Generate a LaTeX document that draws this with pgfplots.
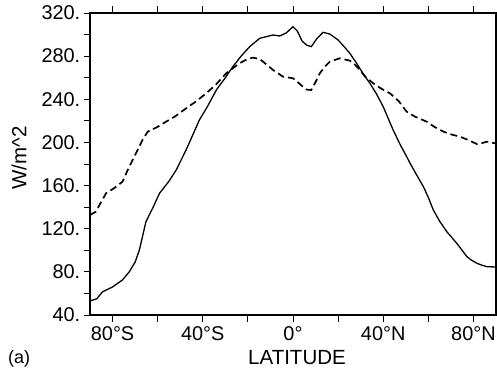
\documentclass[border=0pt]{standalone}
\usepackage{fontspec}
\setmainfont{Liberation Sans}
\usepackage{pgfplots}
\pgfplotsset{compat=1.18}
\begin{document}
\begin{tikzpicture}
\path[use as bounding box] (0pt,0pt) rectangle (497pt,377pt);
\begin{axis}[
  at={(90pt,62pt)}, anchor=south west,
  scale only axis, width=406pt, height=302pt,
  xmin=-90, xmax=90, ymin=40, ymax=320,
  xtick={-80,-40,0,40,80},
  xticklabels={80°S,40°S,0°,40°N,80°N},
  minor xtick={-60,-20,20,60},
  ytick={40,80,120,160,200,240,280,320},
  yticklabels={40.,80.,120.,160.,200.,240.,280.,320.},
  minor ytick={60,100,140,180,220,260,300},
  xtick pos=both, ytick pos=left,
  tick align=outside,
  major tick length=6.5pt, minor tick length=6.5pt,
  tick style={black, line width=0.9pt},
  axis line style={line width=1.1pt},
  tick label style={font=\Huge, scale=0.8},
  yticklabel style={xshift=-0.5pt},
  xticklabel style={yshift=-2.5pt},
  clip=false,
]
\addplot[black, line width=1.3pt] coordinates {
(-90,53) (-87,55) (-84.4,61.6) (-80,66) (-75.6,72.5) (-72.6,80) (-70,89) (-68.1,100.3) (-65.2,126.5)
(-62,140) (-59.2,152.8) (-55,164) (-51.8,174.4) (-47.4,193) (-41.5,220.8) (-38,233) (-34,248.6)
(-30,260) (-26.7,270.2) (-23,280) (-19.2,288.8) (-14.8,296.5) (-11,298.5) (-8.9,299.6) (-5.9,298.7)
(-3,301.5) (0,307.3) (2,303) (4,294) (6,290.3) (8.1,288.8) (10.5,296) (13.3,302.1) (16.3,300.5)
(20,295) (23,288) (25.2,282.6) (28.2,273.4) (31,264) (34.1,254.8) (37,245) (40,233.1) (44.4,211.5)
(47.5,198) (50.4,186.8) (51.9,180.7) (54.5,171) (57.8,159) (60,149) (62.2,137.4) (65,127)
(68.2,117.2) (72.6,106.5) (77.1,94.1) (79,91) (81.5,88) (84,86) (86,84.8) (90,84.5)
};
\addplot[black, line width=1.7pt, dash pattern=on 7pt off 4pt] coordinates {
(-90,132.7) (-87.4,135.8) (-85,145) (-82.9,152.8) (-79,158) (-75.6,163.6) (-72.6,177.5) (-68.9,193)
(-66.7,202.3) (-64.4,210) (-60,214.5) (-56.3,219.2) (-52,224.5) (-47.4,231.6) (-43,238) (-38.5,245.5)
(-34,254) (-29.6,264.1) (-23.7,273.4) (-20,277.5) (-17.8,278.6) (-14.8,277.4) (-11,271) (-8.9,267.2)
(-4.4,260.9) (0,259.5) (2,256) (4.4,251.7) (6,249) (8.1,248.6) (10,256) (11.9,264.1) (14,270) (16.3,274.8)
(20.7,278) (25.2,275.8) (27.5,272) (29.6,267.2) (32,261) (35.6,254.8) (39,250) (43,245.5) (47,238)
(50.4,228.5) (54,224) (59.3,219.2) (63,214) (66.7,210) (70,207.5) (74.1,205.3) (78,202) (81.5,198.5)
(84,199.5) (86,200.7) (90,199)
};
\end{axis}
\node[rotate=90, font=\fontsize{20.5pt}{21pt}\selectfont] at (19pt,219pt) {W/m\textasciicircum 2};
\node[anchor=base, font=\fontsize{20.5pt}{21pt}\selectfont] at (297pt,13pt) {LATITUDE};
\node[anchor=base west, inner sep=0pt, font=\fontsize{18pt}{18pt}\selectfont] at (8pt,14pt) {(a)};
\end{tikzpicture}
\end{document}
